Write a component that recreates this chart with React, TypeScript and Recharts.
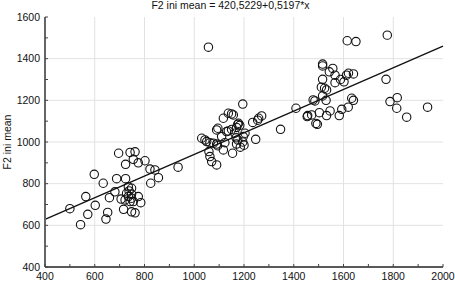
import React from 'react';
import { ScatterChart, Scatter, XAxis, YAxis, ReferenceLine } from 'recharts';

const title = 'F2 ini mean = 420,5229+0,5197*x';
const yLabel = 'F2 ini mean';
const intercept = 420.5229;
const slope = 0.5197;

const xTicks = [400, 500, 600, 700, 800, 900, 1000, 1100, 1200, 1300, 1400, 1500, 1600, 1700, 1800, 1900, 2000];
const yTicks = [400, 500, 600, 700, 800, 900, 1000, 1100, 1200, 1300, 1400, 1500, 1600];
const xGrid = [600, 800, 1000, 1200, 1400, 1600, 1800];
const yGrid = [600, 800, 1000, 1200, 1400];

const xValues = [
  500, 543, 572, 564, 602, 598, 634, 645, 652, 659, 681, 688, 696, 706, 716, 724, 724, 742, 762, 755,
  775, 748, 762, 775, 785, 802, 822, 842, 825, 856, 935, 735, 748, 728, 748, 735, 748, 742, 722, 755,
  738, 1030, 1043, 1050, 1063, 1077, 1090, 1059, 1063, 1070, 1090, 1117, 1154, 1123, 1110, 1095, 1090, 1117, 1137, 1150,
  1157, 1195, 1137, 1130, 1163, 1204, 1197, 1175, 1183, 1178, 1170, 1168, 1175, 1170, 1185, 1195, 1200, 1235, 1255, 1259,
  1271, 1247, 1347, 1409, 1456, 1094, 1150, 1615, 1650, 1776, 1771, 1787, 1816, 1814, 1854, 1938, 1516, 1516, 1557, 1543,
  1566, 1612, 1620, 1640, 1566, 1602, 1588, 1516, 1511, 1524, 1532, 1516, 1530, 1478, 1485, 1454, 1472, 1503, 1489, 1495,
  1532, 1546, 1583, 1593, 1619, 1633, 1640, 1057,
];
const f2Values = [
  680, 603, 653, 738, 696, 845, 802, 630, 662, 733, 761, 824, 946, 726, 677, 893, 824, 950, 953, 917,
  900, 665, 660, 738, 709, 910, 870, 866, 802, 829, 879, 785, 778, 754, 750, 738, 730, 714, 722, 714,
  765, 1018, 1010, 1002, 997, 994, 990, 954, 930, 906, 890, 962, 946, 997, 1026, 1066, 1058, 1114, 1138, 1135,
  1130, 1182, 1053, 1050, 1042, 1042, 1026, 1085, 1080, 1090, 1070, 1020, 1010, 990, 975, 1000, 985, 1094, 1105, 1114,
  1125, 1013, 1061, 1162, 1127, 982, 1060, 1486, 1482, 1513, 1301, 1194, 1213, 1162, 1119, 1167, 1374, 1365, 1353, 1337,
  1321, 1321, 1330, 1327, 1285, 1289, 1300, 1301, 1263, 1258, 1250, 1221, 1200, 1202, 1197, 1122, 1130, 1141, 1089, 1085,
  1127, 1149, 1127, 1157, 1167, 1210, 1200, 1455,
];

const data = xValues.map((x, i) => ({ x, y: f2Values[i] }));
const FONT = "'Liberation Sans', Arial, sans-serif";

const BottomTick = (props: any) => {
  const { x, y, payload } = props;
  const v = payload.value;
  return (
    <g>
      <line x1={x} x2={x} y1={y} y2={y - 3} stroke="#444" strokeWidth={1} />
      {v % 200 === 0 && (
        <text x={x} y={y + 13} textAnchor="middle" fontSize={10.5} fontFamily={FONT} fill="#111">
          {v}
        </text>
      )}
    </g>
  );
};

const LeftTick = (props: any) => {
  const { x, y, payload } = props;
  const v = payload.value;
  return (
    <g>
      <line x1={x} x2={x + 3} y1={y} y2={y} stroke="#444" strokeWidth={1} />
      {v % 200 === 0 && (
        <text x={x - 5} y={y + 3.7} textAnchor="end" fontSize={10.5} fontFamily={FONT} fill="#111">
          {v}
        </text>
      )}
    </g>
  );
};

const TopTick = (props: any) => {
  const { x, y } = props;
  return <line x1={x} x2={x} y1={y} y2={y + 3} stroke="#555" strokeWidth={1} />;
};

const RightTick = (props: any) => {
  const { x, y } = props;
  return <line x1={x} x2={x - 3} y1={y} y2={y} stroke="#555" strokeWidth={1} />;
};

const Ring = (props: any) => {
  const { cx, cy } = props;
  return <circle cx={cx} cy={cy} r={4.2} fill="none" stroke="#111" strokeWidth={1.1} />;
};

export default function App() {
  return (
    <div style={{ position: 'absolute', left: 0, top: 0, width: 455, height: 282, background: '#fff' }}>
      <div
        style={{
          position: 'absolute', left: 3, top: -1, width: 455, textAlign: 'center',
          fontFamily: FONT, fontSize: 10.5, lineHeight: '12px', color: '#111',
        }}
      >
        {title}
      </div>
      <div
        style={{
          position: 'absolute', left: 7, top: 142, transform: 'translate(-50%, -50%) rotate(-90deg)',
          fontFamily: FONT, fontSize: 10.5, lineHeight: '12px', color: '#111', whiteSpace: 'nowrap',
        }}
      >
        {yLabel}
      </div>
      <ScatterChart width={455} height={282} margin={{ top: 17, right: 12, bottom: 0, left: 0 }}>
        <XAxis
          type="number" dataKey="x" domain={[400, 2000]} ticks={xTicks} interval={0}
          height={15} tickSize={0} tickMargin={0} tickLine={false}
          axisLine={{ stroke: '#222', strokeWidth: 1.5 }} tick={<BottomTick />}
        />
        <XAxis
          xAxisId="top" orientation="top" type="number" domain={[400, 2000]} ticks={xTicks} interval={0}
          height={0} tickSize={0} tickMargin={0} tickLine={false}
          axisLine={{ stroke: '#777', strokeWidth: 2 }} tick={<TopTick />}
        />
        <YAxis
          type="number" dataKey="y" domain={[400, 1600]} ticks={yTicks} interval={0}
          width={45} tickSize={0} tickMargin={0} tickLine={false}
          axisLine={{ stroke: '#666', strokeWidth: 2 }} tick={<LeftTick />}
        />
        <YAxis
          yAxisId="right" orientation="right" type="number" domain={[400, 1600]} ticks={yTicks} interval={0}
          width={0} tickSize={0} tickMargin={0} tickLine={false}
          axisLine={{ stroke: '#777', strokeWidth: 2 }} tick={<RightTick />}
        />
        {xGrid.map((v) => (
          <ReferenceLine key={'gx' + v} x={v} stroke="#e2e2e2" strokeWidth={1} />
        ))}
        {yGrid.map((v) => (
          <ReferenceLine key={'gy' + v} y={v} stroke="#e2e2e2" strokeWidth={1} />
        ))}
        <ReferenceLine
          segment={[
            { x: 400, y: intercept + slope * 400 },
            { x: 2000, y: intercept + slope * 2000 },
          ]}
          stroke="#111" strokeWidth={1.3}
        />
        <Scatter data={data} shape={<Ring />} isAnimationActive={false} />
      </ScatterChart>
    </div>
  );
}
